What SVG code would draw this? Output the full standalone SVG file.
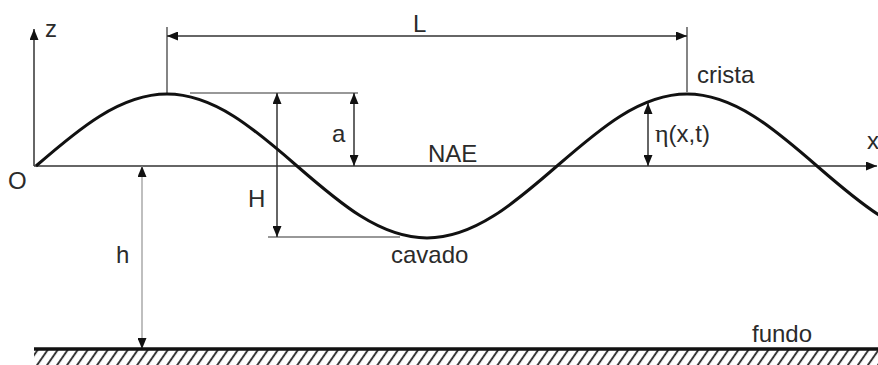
<svg xmlns="http://www.w3.org/2000/svg" width="878" height="365" viewBox="0 0 878 365">
<defs>
<style>
text{font-family:"Liberation Sans",Arial,sans-serif;font-size:24px;fill:#2b2b2b}
.serif{font-family:"Liberation Serif","Times New Roman",serif;font-size:26px}
.dim{stroke:#333;stroke-width:1.5;fill:none}
.thin{stroke:#333;stroke-width:1.2;fill:none}
.gray{stroke:#aaa;stroke-width:1.5;fill:none}
.wave{stroke:#111;stroke-width:3;fill:none}
</style>
<marker id="ah" viewBox="0 0 11 9" refX="11" refY="4.5" markerWidth="11" markerHeight="9" markerUnits="userSpaceOnUse" orient="auto-start-reverse">
<path d="M0,0 L11,4.5 L0,9 Z" fill="#111"/>
</marker>
<pattern id="hatch" patternUnits="userSpaceOnUse" width="8.2" height="20" patternTransform="rotate(35)">
<line x1="2" y1="-2" x2="2" y2="22" stroke="#222" stroke-width="1.8"/>
</pattern>
</defs>
<g id="connectors">
<line id="z-axis" class="dim" x1="34" y1="166" x2="34" y2="29" marker-end="url(#ah)"/>
<line id="x-axis" class="dim" x1="34" y1="166" x2="877" y2="166" marker-end="url(#ah)"/>
<line class="thin" x1="167" y1="27" x2="167" y2="93"/>
<line class="thin" x1="687" y1="27" x2="687" y2="92"/>
<line id="L-dim" class="dim" x1="167" y1="36" x2="687" y2="36" marker-start="url(#ah)" marker-end="url(#ah)"/>
<line class="thin" x1="190" y1="93" x2="358" y2="93"/>
<line class="thin" x1="268" y1="237" x2="400" y2="237"/>
<line id="H-dim" class="dim" x1="277" y1="93" x2="277" y2="237" marker-start="url(#ah)" marker-end="url(#ah)"/>
<line id="a-dim" class="dim" x1="354" y1="93" x2="354" y2="166" marker-start="url(#ah)" marker-end="url(#ah)"/>
<line id="eta-dim" class="dim" x1="648" y1="103" x2="648" y2="166" marker-start="url(#ah)" marker-end="url(#ah)"/>
<line id="h-dim" class="gray" x1="142" y1="166" x2="142" y2="349" marker-start="url(#ah)" marker-end="url(#ah)"/>
</g>
<g id="wave">
<path class="wave" d="M36,166 C78.4,129.1 119.95,94 167,94 C214.05,94 254.6,129.1 297,166 C339.4,202.9 379.95,238 427,238 C474.05,238 514.6,202.9 557,166 C599.4,129.1 639.95,94 687,94 C734.05,94 774.6,129.1 817,166 C859.4,202.9 899.95,238 947,238"/>
</g>
<g id="ground">
<rect x="34" y="350" width="844" height="15" fill="url(#hatch)"/>
<line x1="34" y1="349" x2="878" y2="349" stroke="#111" stroke-width="3.5"/>
</g>
<g id="labels">
<text x="45" y="37">z</text>
<text x="8" y="189">O</text>
<text x="867" y="149">x</text>
<text x="413" y="32">L</text>
<text x="697" y="83">crista</text>
<text x="332" y="142">a</text>
<text x="428" y="162">NAE</text>
<text x="655" y="142"><tspan class="serif">η</tspan>(x,t)</text>
<text x="248" y="207">H</text>
<text x="116" y="263">h</text>
<text x="391" y="263">cavado</text>
<text x="752" y="342">fundo</text>
</g>
</svg>
